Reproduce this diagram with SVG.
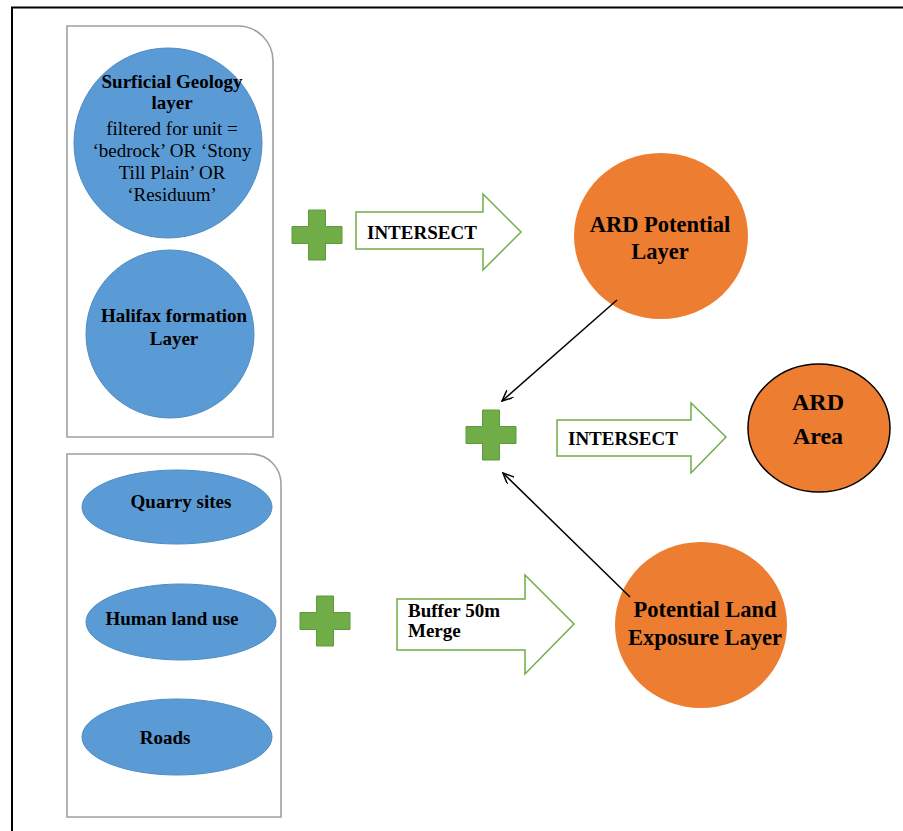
<svg xmlns="http://www.w3.org/2000/svg" width="903" height="831" viewBox="0 0 903 831">
<style>
  .frame{fill:none;stroke:#000;stroke-width:2}
  .box{fill:#fff;stroke:#a0a0a0;stroke-width:1.6}
  .blue{fill:#5b9bd5;stroke:#4f8bc4;stroke-width:1}
  .orange{fill:#ed7d31}
  .ardarea{fill:#ed7d31;stroke:#000;stroke-width:1.5}
  .plus{fill:#70ad47;stroke:#5e9a3a;stroke-width:1;stroke-linejoin:round}
  .barrow{fill:#fff;stroke:#70ad47;stroke-width:1.5}
  .conn{stroke:#000;stroke-width:1.5;fill:none}
  text{font-family:"Liberation Serif","Times New Roman",serif;fill:#000}
  .b{font-weight:bold}
  .c{text-anchor:middle}
</style>
<defs>
  <path id="plusShape" d="M-8.5,-25 H8.5 V-8.5 H25 V8.5 H8.5 V25 H-8.5 V8.5 H-25 V-8.5 H-8.5 Z"/>
  <marker id="arr" viewBox="0 0 12 10" refX="11" refY="5" markerWidth="12" markerHeight="10" markerUnits="userSpaceOnUse" orient="auto">
    <path d="M0,0 L11,5 L0,10" fill="none" stroke="#000" stroke-width="1.5"/>
  </marker>
</defs>
<rect width="903" height="831" fill="#fff"/>
<path class="frame" d="M12,831 V7.5 H903"/>

<g id="group-geology">
  <path class="box" d="M67,26 H238 A35,35 0 0 1 273,61 V437 H67 Z"/>
</g>
<g id="surficial-geology">
  <ellipse class="blue" cx="168" cy="143" rx="94" ry="95"/>
  <text class="b c" x="172" y="88" font-size="19">Surficial Geology</text>
  <text class="b c" x="172" y="109" font-size="19">layer</text>
  <text class="c" x="172" y="135" font-size="19">filtered for unit =</text>
  <text class="c" x="172" y="157" font-size="19">‘bedrock’ OR ‘Stony</text>
  <text class="c" x="172" y="179" font-size="19">Till Plain’ OR</text>
  <text class="c" x="172" y="201" font-size="19">‘Residuum’</text>
</g>
<g id="halifax">
  <ellipse class="blue" cx="170" cy="334" rx="84" ry="84"/>
  <text class="b c" x="174" y="322" font-size="19">Halifax formation</text>
  <text class="b c" x="174" y="345" font-size="19">Layer</text>
</g>

<g id="group-land">
  <path class="box" d="M67,454 H251 A30,30 0 0 1 281,484 V817 H67 Z"/>
</g>
<g id="quarry">
  <ellipse class="blue" cx="177" cy="507" rx="95" ry="37"/>
  <text class="b c" x="181" y="508" font-size="19">Quarry sites</text>
</g>
<g id="human-land-use">
  <ellipse class="blue" cx="181" cy="622" rx="95" ry="38"/>
  <text class="b c" x="172" y="625" font-size="19">Human land use</text>
</g>
<g id="roads">
  <ellipse class="blue" cx="177" cy="737" rx="95" ry="38"/>
  <text class="b c" x="165" y="744" font-size="19">Roads</text>
</g>

<g id="plus1"><use href="#plusShape" class="plus" transform="translate(317,235)"/></g>
<g id="plus2"><use href="#plusShape" class="plus" transform="translate(491,435)"/></g>
<g id="plus3"><use href="#plusShape" class="plus" transform="translate(325,621)"/></g>

<g id="intersect1">
  <path class="barrow" d="M356,212 H483 V194 L521,232 L483,270 V249 H356 Z"/>
  <text class="b" x="367" y="239" font-size="19">INTERSECT</text>
</g>
<g id="intersect2">
  <path class="barrow" d="M557,420 H691 V403 L726,437 L691,473 V456 H557 Z"/>
  <text class="b" x="568" y="445" font-size="19">INTERSECT</text>
</g>
<g id="buffer-merge">
  <path class="barrow" d="M397,599 H525 V575 L574,624 L525,674 V650 H397 Z"/>
  <text class="b" x="408" y="617" font-size="19">Buffer 50m</text>
  <text class="b" x="408" y="637" font-size="19">Merge</text>
</g>

<g id="ard-potential">
  <ellipse class="orange" cx="661" cy="236" rx="87" ry="83"/>
  <text class="b c" x="660" y="232" font-size="22.5">ARD Potential</text>
  <text class="b c" x="660" y="259" font-size="22.5">Layer</text>
</g>
<g id="ard-area">
  <ellipse class="ardarea" cx="819" cy="428" rx="71" ry="64"/>
  <text class="b c" x="818" y="410" font-size="24">ARD</text>
  <text class="b c" x="818" y="444" font-size="24">Area</text>
</g>
<g id="potential-land">
  <ellipse class="orange" cx="701" cy="625" rx="86" ry="83"/>
  <text class="b c" x="705" y="617" font-size="22.5">Potential Land</text>
  <text class="b c" x="705" y="645" font-size="22.5">Exposure Layer</text>
</g>

<g id="connectors">
  <line class="conn" x1="617" y1="300" x2="502" y2="401" marker-end="url(#arr)"/>
  <line class="conn" x1="630" y1="597" x2="503" y2="473" marker-end="url(#arr)"/>
</g>
</svg>
